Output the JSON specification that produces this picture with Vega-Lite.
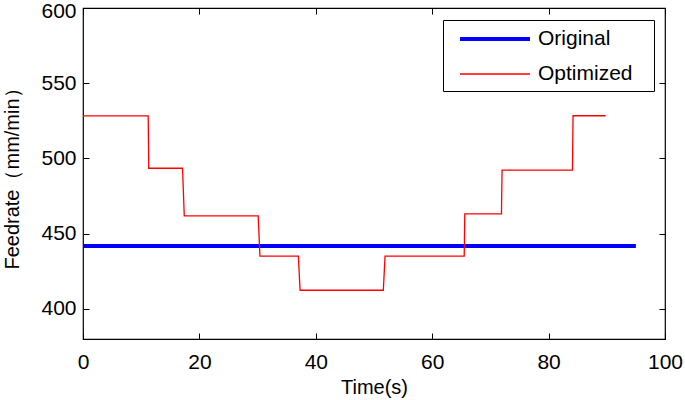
{
  "$schema": "https://vega.github.io/schema/vega-lite/v6.json",
  "autosize": {"type": "none"},
  "width": 582,
  "height": 331,
  "padding": {"left": 83, "top": 8, "right": 20, "bottom": 61},
  "background": "white",
  "config": {
    "view": {"stroke": "black", "strokeWidth": 1.2},
    "font": "Liberation Sans",
    "axis": {
      "grid": false,
      "domain": false,
      "labelFlush": false,
      "labelOverlap": false,
      "tickColor": "black",
      "tickSize": -6,
      "tickWidth": 1,
      "labelColor": "black",
      "labelFont": "Liberation Sans",
      "labelFontSize": 21,
      "titleColor": "black",
      "titleFont": "Liberation Sans",
      "titleFontWeight": "normal",
      "titleFontSize": 20
    }
  },
  "data": {
    "values": [
      {"series": "Original", "time": 0, "feedrate": 441.8},
      {"series": "Original", "time": 95, "feedrate": 441.8},
      {"series": "Optimized", "time": 0, "feedrate": 528.3},
      {"series": "Optimized", "time": 11.2, "feedrate": 528.3},
      {"series": "Optimized", "time": 11.3, "feedrate": 493.5},
      {"series": "Optimized", "time": 17.1, "feedrate": 493.5},
      {"series": "Optimized", "time": 17.4, "feedrate": 461.8},
      {"series": "Optimized", "time": 30.1, "feedrate": 461.8},
      {"series": "Optimized", "time": 30.4, "feedrate": 435.1},
      {"series": "Optimized", "time": 37.0, "feedrate": 435.1},
      {"series": "Optimized", "time": 37.3, "feedrate": 412.4},
      {"series": "Optimized", "time": 51.6, "feedrate": 412.4},
      {"series": "Optimized", "time": 51.9, "feedrate": 435.1},
      {"series": "Optimized", "time": 65.5, "feedrate": 435.1},
      {"series": "Optimized", "time": 65.6, "feedrate": 463.1},
      {"series": "Optimized", "time": 71.9, "feedrate": 463.1},
      {"series": "Optimized", "time": 72.0, "feedrate": 492.2},
      {"series": "Optimized", "time": 84.1, "feedrate": 492.2},
      {"series": "Optimized", "time": 84.2, "feedrate": 528.4},
      {"series": "Optimized", "time": 89.8, "feedrate": 528.4}
    ]
  },
  "resolve": {"axis": {"x": "independent", "y": "independent"}},
  "layer": [
    {
      "mark": {"type": "line", "clip": true},
      "encoding": {
        "x": {
          "field": "time", "type": "quantitative",
          "scale": {"domain": [0, 100], "nice": false, "zero": false},
          "axis": {"values": [0, 20, 40, 60, 80, 100], "title": "Time(s)", "labelPadding": 18, "titlePadding": 5}
        },
        "y": {
          "field": "feedrate", "type": "quantitative",
          "scale": {"domain": [380, 600], "nice": false, "zero": false},
          "axis": {
            "values": [400, 450, 500, 550, 600],
            "title": "Feedrate（mm/min）",
            "labelPadding": 13,
            "titlePadding": 18,
            "labelOffset": {"condition": {"test": "datum.value == 600", "value": 3}, "value": 0}
          }
        },
        "color": {
          "field": "series", "type": "nominal",
          "scale": {"domain": ["Original", "Optimized"], "range": ["#0000FF", "#FF0000"]},
          "legend": {
            "title": "x",
            "titleOrient": "right",
            "titleOpacity": 0,
            "titleFontSize": 12,
            "titlePadding": 7,
            "orient": "none",
            "legendX": 360,
            "legendY": 12,
            "padding": 7,
            "strokeColor": "black",
            "fillColor": "white",
            "labelFontSize": 21,
            "labelFont": "Liberation Sans",
            "labelColor": "black",
            "symbolType": "M-1,0H6",
            "symbolSize": 400,
            "symbolOffset": 8,
            "labelOffset": 56,
            "rowPadding": 14
          }
        },
        "strokeWidth": {
          "field": "series", "type": "nominal",
          "scale": {"domain": ["Original", "Optimized"], "range": [4, 1.3]},
          "legend": null
        }
      }
    },
    {
      "mark": {"type": "line", "opacity": 0},
      "encoding": {
        "x": {
          "field": "time", "type": "quantitative",
          "axis": {"orient": "top", "values": [0, 20, 40, 60, 80, 100], "labels": false, "title": null}
        },
        "y": {
          "field": "feedrate", "type": "quantitative",
          "axis": {"orient": "right", "values": [400, 450, 500, 550, 600], "labels": false, "title": null}
        }
      }
    }
  ]
}
